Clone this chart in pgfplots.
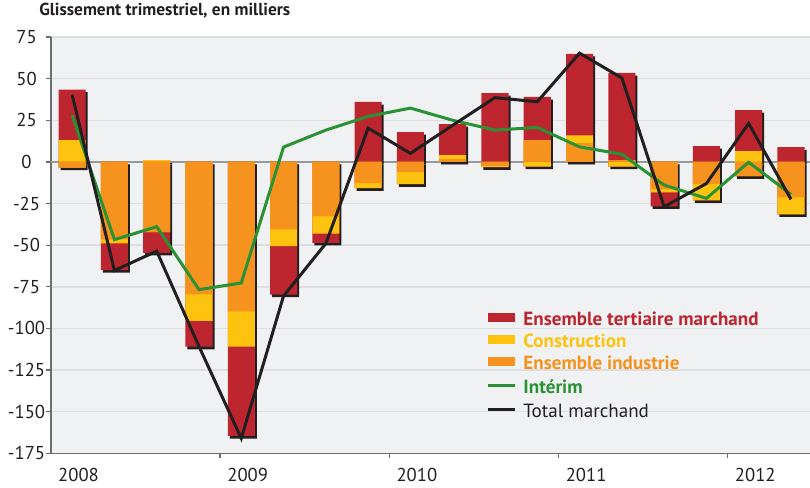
\documentclass[border=0pt]{standalone}
\usepackage{fontspec}
\setmainfont{PT Sans}
\usepackage{pgfplots}
\pgfplotsset{compat=1.18}
\usepackage{pgfplotstable}

\definecolor{cRed}{HTML}{BE262F}
\definecolor{cYel}{HTML}{FDC30F}
\definecolor{cOra}{HTML}{F6921E}
\definecolor{cGre}{HTML}{2A9235}
\definecolor{cBlk}{HTML}{231F20}
\definecolor{cBg}{HTML}{F0F1F3}
\definecolor{cGrid}{HTML}{DDDEE1}
\definecolor{cAxis}{HTML}{6D6E71}

\newdimen\px \px=0.75pt

% quarters 2008T1 .. 2012T2, k = 0..17
% ind = industrie, con = construction, ter = tertiaire marchand,
% int = interim, tot = total marchand (milliers)
\pgfplotstableread{
k  ind    con    ter    int    tot
0  -3.4   13.1   30.3   28.1   40.3
1  -46.5  -2.5   -16.0  -46.7  -65.2
2  -42.2  1.0    -12.4  -38.9  -53.6
3  -79.5  -15.9  -15.6  -76.7  -110.8
4  -89.8  -21.2  -53.6  -72.7  -166.0
5  -40.5  -10.1  -29.1  8.9    -80.5
6  -32.7  -10.4  -5.5   19.1   -49.0
7  -12.8  -3.0   36.0   27.3   20.3
8  -6.2   -7.2   17.9   32.3   5.1
9  1.6    2.4    18.7   25.0   22.0
10 -2.4   -0.8   41.3   19.1   38.6
11 13.1   -2.8   25.9   20.7   36.1
12 11.2   4.8    48.9   9.0    65.3
13 1.0    -2.8   52.4   4.6    50.4
14 -16.5  -1.8   -8.4   -13.9  -26.9
15 -13.4  -9.7   9.5    -21.9  -13.0
16 -8.6   6.4    24.7   -0.2   23.1
17 -21.3  -10.2  8.8    -19.5  -22.5
}\emploi

\pgfplotsset{
  seg/.style={ybar, bar width=0.64, draw=none, forget plot},
}

\begin{document}
\begin{tikzpicture}
\useasboundingbox (0,0) rectangle (810\px,487\px);
\node[anchor=base west, inner sep=0pt, text=cBlk,
      font=\fontsize{13}{15}\selectfont\bfseries]
  at (39\px,471.3\px) {Glissement trimestriel, en milliers};
% graduations de l'axe vertical, centrees
\foreach \v in {-175,-150,...,75} {
  \pgfmathsetmacro\yy{0.75*(33.7+(\v+175)*1.6652)}
  \node[anchor=center, inner sep=0pt, text=cBlk, font=\fontsize{14}{16}\selectfont]
    at (19.9pt,\yy pt) {\v};
}
% annees
\foreach \x/\a in {78.5/2008,247.7/2009,416.9/2010,586.1/2011,755.3/2012} {
  \pgfmathsetmacro\xx{0.75*\x}
  \node[anchor=center, inner sep=0pt, text=cBlk, font=\fontsize{14}{16}\selectfont]
    at (\xx pt,9.4pt) {\a};
}
\begin{axis}[
  at={(51\px,33.7\px)}, anchor=south west,
  scale only axis, width=759\px, height=416.3\px,
  xmin=-0.5, xmax=17.45, ymin=-175, ymax=75,
  axis lines*=left,
  axis line style={cAxis, line width=1.3\px},
  axis background/.style={fill=cBg},
  ytick={-175,-150,...,75}, yticklabels={},
  ymajorgrids,
  major grid style={cGrid, line width=1.5\px},
  extra y ticks={0}, extra y tick labels={},
  extra y tick style={major grid style={black!40, line width=2\px}},
  xtick={3.5,7.5,11.5,15.5}, xticklabels={},
  tick align=outside, major tick length=5\px,
  tick style={cAxis, line width=1.3\px},
  legend style={at={(axis cs:9.81,-90.7)}, anchor=north west,
    draw=none, fill=none, inner sep=0pt, outer sep=0pt,
    font=\fontsize{14.3}{16}\selectfont,
    nodes={inner sep=0pt, text height=9.5pt, text depth=2.5pt},
    row sep=4.4pt, column sep=6.5\px},
  legend cell align=left,
]
% ombres
\addplot[seg, fill=cBlk, xshift=2\px, yshift=-2.6\px] table[x=k, y expr={max(\thisrow{ind},0)+max(\thisrow{con},0)+max(\thisrow{ter},0)}]{\emploi};
\addplot[seg, fill=cBlk, xshift=2\px, yshift=-2.6\px] table[x=k, y expr={min(\thisrow{ind},0)+min(\thisrow{con},0)+min(\thisrow{ter},0)}]{\emploi};
% positifs : industrie, construction, tertiaire empiles
\addplot[seg, fill=cRed] table[x=k, y expr={max(\thisrow{ind},0)+max(\thisrow{con},0)+max(\thisrow{ter},0)}]{\emploi};
\addplot[seg, fill=cYel] table[x=k, y expr={max(\thisrow{ind},0)+max(\thisrow{con},0)}]{\emploi};
\addplot[seg, fill=cOra] table[x=k, y expr={max(\thisrow{ind},0)}]{\emploi};
% negatifs
\addplot[seg, fill=cRed] table[x=k, y expr={min(\thisrow{ind},0)+min(\thisrow{con},0)+min(\thisrow{ter},0)}]{\emploi};
\addplot[seg, fill=cYel] table[x=k, y expr={min(\thisrow{ind},0)+min(\thisrow{con},0)}]{\emploi};
\addplot[seg, fill=cOra] table[x=k, y expr={min(\thisrow{ind},0)}]{\emploi};
% courbes
\addplot[cGre, line width=3\px, forget plot] table[x=k, y=int]{\emploi};
\addplot[cBlk, line width=3\px, forget plot] table[x=k, y=tot]{\emploi};

\addlegendimage{legend image code/.code={\fill[cRed] (0pt,0.2pt) rectangle (19.5pt,5.9pt);}}
\addlegendentry{\textcolor{cRed}{\bfseries Ensemble tertiaire marchand}}
\addlegendimage{legend image code/.code={\fill[cYel] (0pt,0.2pt) rectangle (19.5pt,5.9pt);}}
\addlegendentry{\textcolor{cYel}{\bfseries Construction}}
\addlegendimage{legend image code/.code={\fill[cOra] (0pt,0.2pt) rectangle (19.5pt,5.9pt);}}
\addlegendentry{\textcolor{cOra}{\bfseries Ensemble industrie}}
\addlegendimage{legend image code/.code={\path[draw=none, fill=none] (0pt,0pt) rectangle (1pt,7.6pt); \draw[cGre, line width=2.25pt] (0pt,3pt) -- (20.25pt,3pt);}}
\addlegendentry{\textcolor{cGre}{\bfseries Intérim}}
\addlegendimage{legend image code/.code={\path[draw=none, fill=none] (0pt,0pt) rectangle (1pt,7.6pt); \draw[cBlk, line width=2.25pt] (0pt,3pt) -- (20.25pt,3pt);}}
\addlegendentry{\textcolor{cBlk}{Total marchand}}
\end{axis}
\end{tikzpicture}
\end{document}
